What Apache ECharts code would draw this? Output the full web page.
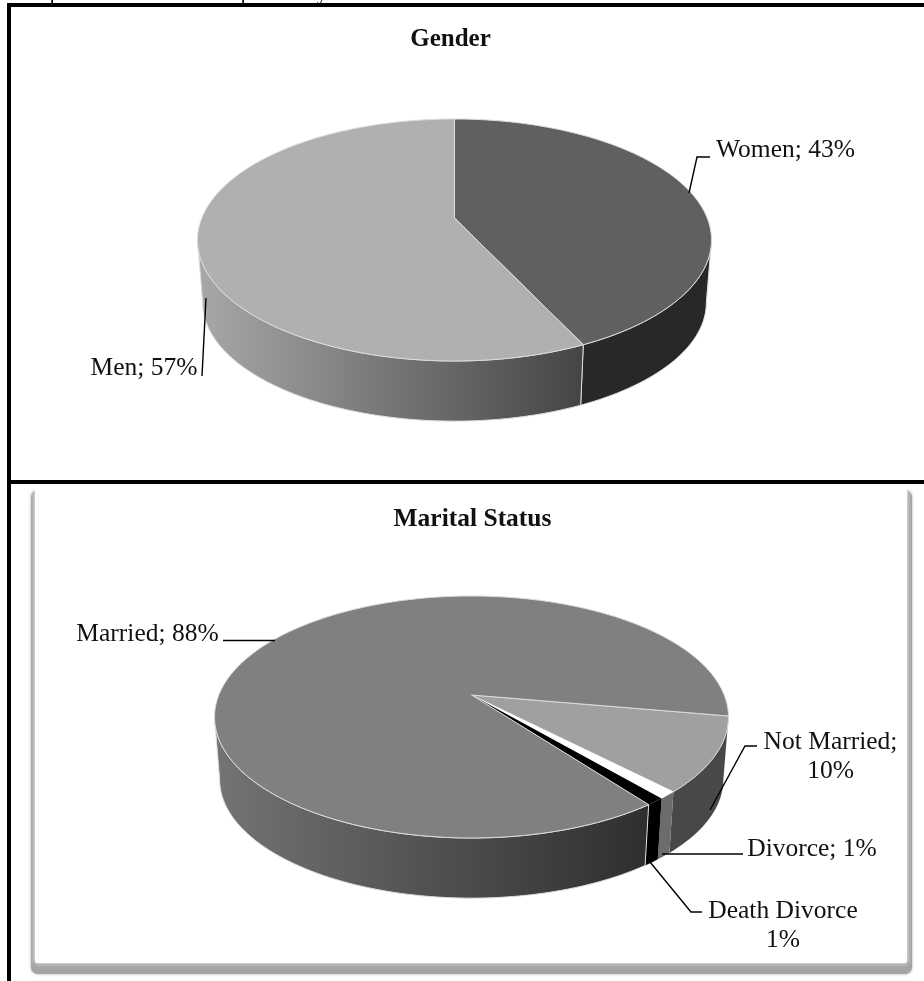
<!DOCTYPE html>
<html><head><meta charset="utf-8">
<style>html,body{margin:0;padding:0;background:#fff}#c{width:924px;height:981px}</style>
<script src="https://cdn.jsdelivr.net/npm/echarts@6/dist/echarts.min.js"></script>
</head><body><div id="c"></div>
<script>
// ---- data ----
const genderTitle = 'Gender';
const genderNames = ['Women', 'Men'];
const genderValues = [43, 57];
const genderStart = 0;
const maritalTitle = 'Marital Status';
const maritalNames = ['Not Married', 'Divorce', 'Death Divorce', 'Married'];
const maritalValues = [10, 1, 1, 88];
const maritalStart = 100;

// ---- style / layout ----
const FONT = '"Liberation Serif", serif';
const INK = '#111';
const RIM = '#dcdcdc';
const K = 0.1818;          // perspective strength
const A = 252.7, B = 117;  // projected radii
const DEPTH_SCALE = 0.98;
const genderGeom = {cx: 454.5, cy: 218, drop: 63};
const maritalGeom = {cx: 471.5, cy: 695, drop: 63};
const genderStyle = {
  top: ['#606060', '#b0b0b0'],
  side: ['#282828', {l:'#a8a8a8', r:'#444444'}],
  topStroke: [RIM, RIM],
  sideStroke: [RIM, RIM],
  labels: [
    {sep:'; ', x:785.5, y:150, path:[[689,193],[697,157],[710,157]]},
    {sep:'; ', x:144, y:368, path:[[206,298],[202,376]]}
  ]
};
const maritalStyle = {
  top: ['#a0a0a0', '#ffffff', '#000000', '#808080'],
  side: ['#484848', '#6c6c6c', '#000000', {l:'#747474', r:'#2e2e2e'}],
  topStroke: [RIM, 'none', 'none', RIM],
  sideStroke: ['none', 'none', 'none', RIM],
  labels: [
    {sep:';\n', x:830.5, y:757, path:[[710,810],[745,746],[757,746]]},
    {sep:'; ', x:812, y:849, path:[[662,854],[743,854]]},
    {sep:'\n', x:783, y:926, path:[[650,862],[691,912],[702,912]]},
    {sep:'; ', x:147.5, y:634, path:[[223,640.5],[275,640.5]]}
  ]
};
// clipped descenders of the line of text above the table
const clippedGlyphs = [{t:'p', x:55}, {t:'p', x:246}, {t:'y', x:322}];

function project(g, deg, lower) {
  const t = deg * Math.PI / 180, u = Math.sin(t), v = -Math.cos(t), d = 1 - K * v;
  const s = lower ? DEPTH_SCALE : 1;
  return [g.cx + s * A * u / d, g.cy + (lower ? g.drop : 0) + s * B * v / d];
}
function arcPts(g, a0, a1, lower) {
  const n = Math.max(2, Math.ceil(Math.abs(a1 - a0) / 1.5)), pts = [];
  for (let i = 0; i <= n; i++) pts.push(project(g, a0 + (a1 - a0) * i / n, lower));
  return pts;
}
const EDGE = Math.acos(-K) * 180 / Math.PI; // silhouette angle
function fillOf(c) {
  if (typeof c === 'string') return c;
  return new echarts.graphic.LinearGradient(0, 0, 1, 0, [{offset:0,color:c.l},{offset:1,color:c.r}]);
}

function pieSeries(id, names, values, start, g, st) {
  const total = values.reduce((a, b) => a + b, 0);
  const data = names.map((n, i) => ({name:n, value:values[i]}));
  return {
    type: 'custom', coordinateSystem: 'none', silent: true, id,
    data,
    renderItem(params) {
      if (params.dataIndex !== 0) return null;
      let acc = start;
      const spans = values.map(v => { const a0 = acc; acc += v / total * 360; return [a0, acc]; });
      const children = [];
      const lo = EDGE, hi = 360 - EDGE;
      const walls = [];
      spans.forEach((sp, i) => {
        [0, 360].forEach(off => {
          const a0 = Math.max(sp[0], lo + off), a1 = Math.min(sp[1], hi + off);
          if (a1 > a0) walls.push({i, a0, a1});
        });
      });
      walls.forEach(w => {
        const pts = arcPts(g, w.a0, w.a1, false).concat(arcPts(g, w.a0, w.a1, true).reverse());
        children.push({type:'polygon', shape:{points:pts},
          style:{fill:fillOf(st.side[w.i]), stroke:st.sideStroke[w.i], lineWidth:1, lineJoin:'round'}});
      });
      spans.forEach((sp, i) => {
        const pts = [[g.cx, g.cy]].concat(arcPts(g, sp[0], sp[1], false));
        children.push({type:'polygon', shape:{points:pts},
          style:{fill:st.top[i], stroke:st.topStroke[i], lineWidth:1, lineJoin:'round'}});
      });
      return {type:'group', children};
    }
  };
}
function leaderGraphics(names, values, st) {
  const out = [];
  st.labels.forEach((l, i) => {
    out.push({type:'polyline', z:20, shape:{points:l.path}, style:{stroke:'#000', lineWidth:1.4, fill:null}});
    out.push({type:'text', z:21, x:l.x, y:l.y, style:{text:names[i] + l.sep + values[i] + '%', font:'25.5px '+FONT, fill:INK, align:'center', verticalAlign:'middle', lineHeight:29}});
  });
  return out;
}

const chart = echarts.init(document.getElementById('c'), null, {renderer:'canvas'});
chart.setOption({
  animation:false,
  backgroundColor:'#fff',
  title:[
    {text:genderTitle, left:445.5, top:22, textAlign:'center', textStyle:{fontFamily:FONT,fontWeight:'bold',fontSize:25,color:INK}},
    {text:maritalTitle, left:467.5, top:501, textAlign:'center', textStyle:{fontFamily:FONT,fontWeight:'bold',fontSize:25.5,color:INK}}
  ],
  graphic:{elements:[
    {type:'rect', z:-10, shape:{x:31,y:490,width:881,height:484,r:7}, style:{fill:'#a4a4a4', shadowBlur:3, shadowColor:'#aaa'}},
    {type:'rect', z:-9, shape:{x:35,y:470,width:872,height:493,r:[0,0,2,2]}, style:{fill:'#fff', shadowBlur:5, shadowColor:'#fff'}},
    {type:'rect', z:-8, shape:{x:0,y:484,width:924,height:4}, style:{fill:'#fff'}},
    ...clippedGlyphs.map(g => ({type:'text', z:-2, x:g.x, y:4, style:{text:g.t, font:'21px '+FONT, fill:'#000', align:'center', verticalAlign:'bottom', lineHeight:21}})),
    {type:'rect', z:-1, shape:{x:0,y:-20,width:924,height:20}, style:{fill:'#fff'}},
    {type:'rect', z:-1, shape:{x:7,y:3,width:917,height:4}, style:{fill:'#000'}},
    {type:'rect', z:-1, shape:{x:7,y:3,width:4,height:978}, style:{fill:'#000'}},
    {type:'rect', z:-1, shape:{x:7,y:480,width:917,height:4}, style:{fill:'#000'}},
    ...leaderGraphics(genderNames, genderValues, genderStyle),
    ...leaderGraphics(maritalNames, maritalValues, maritalStyle)
  ]},
  series:[
    pieSeries('gender', genderNames, genderValues, genderStart, genderGeom, genderStyle),
    pieSeries('marital', maritalNames, maritalValues, maritalStart, maritalGeom, maritalStyle)
  ]
});
</script></body></html>
